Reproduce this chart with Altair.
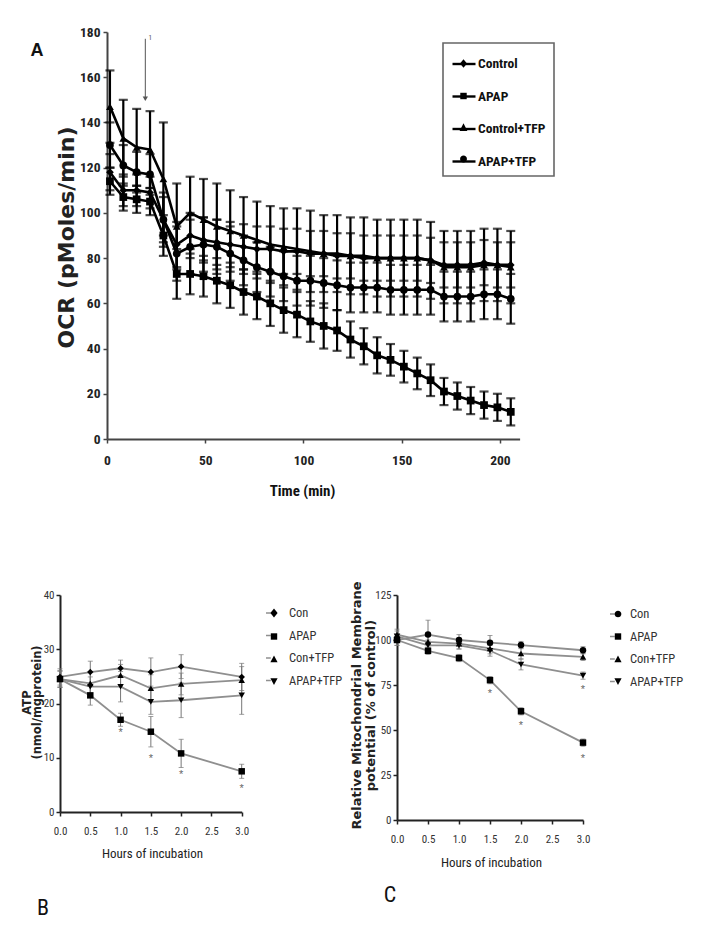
import altair as alt
import pandas as pd

W, H = 688, 922
NARROW = "Roboto Condensed, Liberation Sans Narrow, Roboto, Liberation Sans, sans-serif"
WIDE = "DejaVu Sans, Verdana, sans-serif"

# ---------------- Panel A : OCR ----------------
series_a = ["Control", "APAP", "Control+TFP", "APAP+TFP"]
time_a = [1.5, 8.3, 15.1, 21.9, 28.7, 35.5, 42.3, 49.1, 55.9, 62.7, 69.5, 76.3, 83.1,
          89.9, 96.7, 103.5, 110.3, 117.1, 123.9, 130.7, 137.5, 144.3, 151.1, 157.9,
          164.7, 171.5, 178.3, 185.1, 191.9, 198.7, 205.5]
ocr_control = [118, 110, 110, 109, 97, 86, 90, 88, 87, 86, 85, 84, 84, 83, 83, 82,
               82, 81, 81, 80, 80, 80, 80, 80, 79, 77, 77, 77, 78, 77, 77]
ocr_apap = [114, 107, 106, 105, 90, 73, 73, 72, 70, 68, 65, 63, 60, 57, 55, 52,
            50, 48, 44, 41, 37, 35, 32, 29, 26, 21, 19, 17, 15, 14, 12]
ocr_control_tfp = [147, 133, 129, 128, 115, 94, 100, 97, 94, 92, 90, 88, 86, 85, 84, 83,
                   82, 82, 81, 81, 80, 80, 80, 80, 79, 76, 76, 76, 77, 77, 76]
ocr_apap_tfp = [130, 121, 118, 117, 97, 82, 85, 86, 85, 82, 79, 76, 74, 72, 70, 70,
                69, 68, 67, 67, 67, 66, 66, 66, 66, 63, 63, 63, 64, 64, 62]
err_control = [8, 7, 7, 7, 10, 10, 10, 10, 10, 10, 10, 10, 10, 10, 10, 10,
               10, 10, 10, 10, 10, 10, 10, 10, 10, 10, 10, 10, 10, 10, 10]
err_apap = [6, 6, 6, 6, 9, 11, 9, 9, 10, 10, 10, 10, 10, 10, 10, 9,
            10, 9, 8, 8, 8, 7, 7, 7, 7, 6, 6, 6, 6, 6, 6]
err_control_tfp = [16, 17, 17, 17, 25, 19, 16, 18, 19, 18, 17, 17, 17, 17, 18, 18,
                   17, 17, 17, 17, 17, 17, 17, 17, 17, 16, 16, 16, 16, 16, 16]
err_apap_tfp = [10, 9, 9, 9, 12, 12, 12, 12, 12, 12, 11, 11, 11, 11, 11, 11,
                11, 11, 11, 11, 11, 11, 11, 11, 11, 11, 11, 11, 11, 11, 11]
x_ticks_a = [0, 50, 100, 150, 200]
y_ticks_a = [0, 20, 40, 60, 80, 100, 120, 140, 160, 180]
arrow_time = [19.5]
arrow_top = [177]
arrow_bottom = [150.5]
arrow_label_time = [22.0]
arrow_label_value = [177.5]

# ---------------- Panels B and C ----------------
series_bc = ["Con", "APAP", "Con+TFP", "APAP+TFP"]
hours = [0.0, 0.5, 1.0, 1.5, 2.0, 3.0]
x_ticks_bc = [0.0, 0.5, 1.0, 1.5, 2.0, 2.5, 3.0]

atp_con = [24.9, 25.8, 26.5, 25.8, 26.8, 24.9]
atp_apap = [24.5, 21.5, 17.0, 14.8, 10.8, 7.5]
atp_con_tfp = [24.5, 23.7, 25.2, 22.8, 23.6, 24.3]
atp_apap_tfp = [24.5, 23.1, 23.1, 20.3, 20.6, 21.5]
atp_con_err = [1.5, 2.0, 1.5, 2.6, 2.2, 2.5]
atp_apap_err = [1.5, 1.8, 1.2, 2.8, 2.6, 1.3]
atp_con_tfp_err = [1.5, 2.0, 2.0, 2.5, 2.0, 2.5]
atp_apap_tfp_err = [1.5, 1.8, 2.8, 2.3, 3.2, 3.5]
y_ticks_b = [0, 10, 20, 30, 40]
star_b_hours = [1.0, 1.5, 2.0, 3.0]
star_b_value = [14.5, 9.8, 6.8, 4.3]

mmp_con = [100, 103, 100, 98.5, 97.2, 94.3]
mmp_apap = [100, 94, 90, 77.7, 60.4, 43]
mmp_con_tfp = [103, 99, 98, 95.3, 92.5, 90.6]
mmp_apap_tfp = [102, 97, 97, 94, 86.4, 80.2]
mmp_con_err = [3, 8, 3, 4, 2, 2]
mmp_apap_err = [3, 2, 2, 2, 2, 2]
mmp_con_tfp_err = [3, 3, 3, 3, 3, 2]
mmp_apap_tfp_err = [3, 3, 2, 3, 3, 2]
y_ticks_c = [0, 25, 50, 75, 100, 125]
star_c_hours = [1.5, 2.0, 3.0, 3.0]
star_c_value = [70, 52, 34, 72]


def long_df(xs, names, values, errs, xname):
    rows = []
    for name, vals, es in zip(names, values, errs):
        for xi, v, e in zip(xs, vals, es):
            rows.append({xname: xi, "value": v, "lo": v - e, "hi": v + e, "series": name})
    return pd.DataFrame(rows)


def caps_df(df):
    a = df.assign(cap=df["lo"])
    b = df.assign(cap=df["hi"])
    return pd.concat([a, b], ignore_index=True)


dfA = long_df(time_a, series_a, [ocr_control, ocr_apap, ocr_control_tfp, ocr_apap_tfp],
              [err_control, err_apap, err_control_tfp, err_apap_tfp], "t")
dfB = long_df(hours, series_bc, [atp_con, atp_apap, atp_con_tfp, atp_apap_tfp],
              [atp_con_err, atp_apap_err, atp_con_tfp_err, atp_apap_tfp_err], "h")
dfC = long_df(hours, series_bc, [mmp_con, mmp_apap, mmp_con_tfp, mmp_apap_tfp],
              [mmp_con_err, mmp_apap_err, mmp_con_tfp_err, mmp_apap_tfp_err], "h")
capsA, capsB, capsC = caps_df(dfA), caps_df(dfB), caps_df(dfC)
arrow_df = pd.DataFrame({"t": arrow_time, "top": arrow_top, "bottom": arrow_bottom,
                         "lt": arrow_label_time, "lv": arrow_label_value})
starB = pd.DataFrame({"h": star_b_hours, "v": star_b_value})
starC = pd.DataFrame({"h": star_c_hours, "v": star_c_value})

# ---------------- scales (pixel ranges place each panel) ----------------
sxA = alt.Scale(domain=[0, 210], range=[99, 511.6], nice=False, zero=False)
syA = alt.Scale(domain=[0, 180], range=[431, 24], nice=False)
sxB = alt.Scale(domain=[0, 3], range=[52, 233.7], nice=False, zero=False)
syB = alt.Scale(domain=[0, 40], range=[804, 587], nice=False)
sxC = alt.Scale(domain=[0, 3], range=[389, 575], nice=False, zero=False)
syC = alt.Scale(domain=[0, 125], range=[812, 587], nice=False)

common_axis = dict(grid=False, labelFlush=False, labelOverlap=False)

axAx = alt.Axis(orient="bottom", offset=431 - H, values=x_ticks_a, title="Time (min)",
                titleX=294, titleY=51, titleBaseline="middle", titleFont=NARROW,
                titleFontSize=15, titleFontWeight="bold", titleColor="#111",
                labelFont=NARROW, labelFontSize=13.5, labelFontWeight="bold", labelColor="#222",
                labelPadding=10, tickSize=4, tickWidth=1.5, tickColor="#444",
                domainColor="#444", domainWidth=2, **common_axis)
axAy = alt.Axis(orient="left", offset=-99, values=y_ticks_a, title="OCR (pMoles/min)",
                titleX=-41, titleY=229, titleBaseline="middle", titleFont=WIDE,
                titleFontSize=22, titleFontWeight="bold", titleColor="#222",
                labelFont=NARROW, labelFontSize=13.5, labelFontWeight="bold", labelColor="#222",
                labelPadding=3, tickSize=4, tickWidth=1.5, tickColor="#444",
                domainColor="#444", domainWidth=2, **common_axis)

axBx = alt.Axis(orient="bottom", offset=804 - H, values=x_ticks_bc, format=".1f",
                title="Hours of incubation", titleX=144, titleY=41, titleBaseline="middle",
                titleFont=NARROW, titleFontSize=13, titleFontWeight="normal", titleColor="#222",
                labelFont=NARROW, labelFontSize=11, labelColor="#333", labelPadding=9,
                tickSize=4, tickWidth=1.5, tickColor="#222", domainColor="#222",
                domainWidth=2, **common_axis)
axBy = alt.Axis(orient="left", offset=-52, values=y_ticks_b, title=["ATP", "(nmol/mgprotein)"],
                titleX=-33, titleY=694, titleBaseline="middle", titleFont=WIDE,
                titleFontSize=11.5, titleLineHeight=10, titleFontWeight="bold", titleColor="#222",
                labelFont=NARROW, labelFontSize=11, labelColor="#333", labelPadding=2,
                tickSize=4, tickWidth=1.5, tickColor="#222", domainColor="#222",
                domainWidth=2, **common_axis)

axCx = alt.Axis(orient="bottom", offset=812 - H, values=x_ticks_bc, format=".1f",
                title="Hours of incubation", titleX=483, titleY=42, titleBaseline="middle",
                titleFont=NARROW, titleFontSize=13, titleFontWeight="normal", titleColor="#222",
                labelFont=NARROW, labelFontSize=11, labelColor="#333", labelPadding=9,
                tickSize=4, tickWidth=1.5, tickColor="#222", domainColor="#222",
                domainWidth=2, **common_axis)
axCy = alt.Axis(orient="left", offset=-389, values=y_ticks_c,
                title=["Relative Mitochondrial Membrane", "potential (% of control)"],
                titleX=-41, titleY=697, titleBaseline="middle", titleFont=WIDE,
                titleFontSize=13, titleLineHeight=14, titleFontWeight="bold", titleColor="#222",
                labelFont=NARROW, labelFontSize=11, labelColor="#333", labelPadding=2,
                tickSize=4, tickWidth=1.5, tickColor="#222", domainColor="#222",
                domainWidth=2, **common_axis)

# legend symbols (line part and marker part drawn by two stacked legends)
line_a = ["M-1,0L1,0"] * 4
marks_a = [
    "M0,-0.38L0.3,0L0,0.38L-0.3,0Z",
    "M-0.28,-0.28L0.28,-0.28L0.28,0.28L-0.28,0.28Z",
    "M0,-0.36L0.34,0.3L-0.34,0.3Z",
    "M-0.3,0A0.3,0.3,0,1,0,0.3,0A0.3,0.3,0,1,0,-0.3,0Z",
]
line_bc = ["M-1,0L-0.4,0"] * 4
marks_b = [
    "M0,-0.55L0.45,0L0,0.55L-0.45,0Z",
    "M-0.4,-0.4L0.4,-0.4L0.4,0.4L-0.4,0.4Z",
    "M0,-0.45L0.45,0.4L-0.45,0.4Z",
    "M0,0.45L0.45,-0.4L-0.45,-0.4Z",
]
marks_c = [
    "M-0.42,0A0.42,0.42,0,1,0,0.42,0A0.42,0.42,0,1,0,-0.42,0Z",
    "M-0.4,-0.4L0.4,-0.4L0.4,0.4L-0.4,0.4Z",
    "M0,-0.45L0.45,0.4L-0.45,0.4Z",
    "M0,0.45L0.45,-0.4L-0.45,-0.4Z",
]
shapes_a = ["diamond", "square", "triangle-up", "circle"]
shapes_b = ["diamond", "square", "triangle-up", "triangle-down"]
shapes_c = ["circle", "square", "triangle-up", "triangle-down"]


def panel(df, caps, xf, sx, sy, axx, axy, names, shapes, lines, marks, leg_line, leg_mark, style):
    X = lambda f, ax=None: alt.X(f"{f}:Q", scale=sx, axis=ax)
    Y = lambda f, ax=None: alt.Y(f"{f}:Q", scale=sy, axis=ax)
    err = alt.Chart(df).mark_rule(color=style["err"], strokeWidth=style["errw"]).encode(
        x=X(xf), y=Y("lo"), y2="hi")
    cap = alt.Chart(caps).mark_tick(orient="horizontal", color=style["err"],
                                    size=style["capw"], thickness=style["errw"]).encode(
        x=X(xf), y=Y("cap"))
    line = alt.Chart(df).mark_line(color=style["line"], strokeWidth=style["linew"]).encode(
        x=X(xf, axx), y=Y("value", axy), detail="series:N")
    pts = alt.Chart(df).mark_point(filled=True, color="black", opacity=1, size=style["size"]).encode(
        x=X(xf), y=Y("value"),
        shape=alt.Shape("series:N", scale=alt.Scale(domain=names, range=shapes), legend=None))
    leg1 = alt.Chart(df).mark_point(filled=False, color=style["legline"],
                                    strokeWidth=style["legsw"], opacity=0).encode(
        x=X(xf), y=Y("value"),
        shape=alt.Shape("series:N", scale=alt.Scale(domain=names, range=lines), legend=leg_line))
    leg2 = alt.Chart(df).mark_point(filled=True, color="black", opacity=0).encode(
        x=X(xf), y=Y("value"),
        shape=alt.Shape("series:N", scale=alt.Scale(domain=names, range=marks), legend=leg_mark))
    return [err, cap, line, pts, leg1, leg2], X, Y


def legends(x, y, size, font, fsize, weight, color, loff, rowpad, pad, stroke=None, lw=2):
    base = dict(orient="none", legendX=x, legendY=y, title=None, symbolSize=size,
                symbolOpacity=1, labelFont=font, labelFontSize=fsize, labelFontWeight=weight,
                labelOffset=loff, rowPadding=rowpad, padding=pad)
    kw_line = dict(base, labelColor=color, symbolStrokeWidth=lw)
    if stroke:
        kw_line["strokeColor"] = stroke
    kw_mark = dict(base, labelColor=color, labelExpr="''")
    return alt.Legend(**kw_line), alt.Legend(**kw_mark)


legA_line, legA_mark = legends(435, 35, 529, NARROW, 13.5, "bold", "#111", 1, 12.5, 8,
                               stroke="#666", lw=2.4)
legB_line, legB_mark = legends(257, 596, 256, NARROW, 12.5, "normal", "#333", 6, 6.5, 0, lw=1.5)
legC_line, legC_mark = legends(601, 597, 256, NARROW, 12.5, "normal", "#333", 3, 6.5, 0, lw=1.5)

styleA = dict(err="black", errw=2.2, capw=9, line="black", linew=2.6, size=60,
              legline="black", legsw=2.4)
styleBC = dict(err="#777", errw=1, capw=5, line="#8f8f8f", linew=1.8, size=42,
               legline="#8f8f8f", legsw=1.5)

layersA, XA, YA = panel(dfA, capsA, "t", sxA, syA, axAx, axAy, series_a, shapes_a,
                        line_a, marks_a, legA_line, legA_mark, styleA)
layersB, XB, YB = panel(dfB, capsB, "h", sxB, syB, axBx, axBy, series_bc, shapes_b,
                        line_bc, marks_b, legB_line, legB_mark, styleBC)
layersC, XC, YC = panel(dfC, capsC, "h", sxC, syC, axCx, axCy, series_bc, shapes_c,
                        line_bc, marks_c, legC_line, legC_mark, styleBC)

arrow_rule = alt.Chart(arrow_df).mark_rule(color="#555", strokeWidth=1).encode(
    x=XA("t"), y=YA("top"), y2="bottom")
arrow_head = alt.Chart(arrow_df).mark_point(shape="triangle-down", filled=True, color="#555",
                                            size=28, opacity=1).encode(x=XA("t"), y=YA("bottom"))
arrow_lbl = alt.Chart(arrow_df).mark_text(text="1", fontSize=7, color="#555", font=NARROW).encode(
    x=XA("lt"), y=YA("lv"))

starsB = alt.Chart(starB).mark_text(text="*", fontSize=11, color="#666", baseline="middle").encode(
    x=XB("h"), y=YB("v"))
starsC = alt.Chart(starC).mark_text(text="*", fontSize=11, color="#666", baseline="middle").encode(
    x=XC("h"), y=YC("v"))

one = pd.DataFrame({"k": [0]})
lblA = alt.Chart(one).mark_text(text="A", font="Liberation Sans", fontSize=18, fontWeight="bold",
                                color="#111").encode(x=alt.value(29), y=alt.value(43))
lblB = alt.Chart(one).mark_text(text="B", font=NARROW, fontSize=22, color="#111").encode(
    x=alt.value(35), y=alt.value(900))
lblC = alt.Chart(one).mark_text(text="C", font=NARROW, fontSize=22, color="#111").encode(
    x=alt.value(382), y=alt.value(887))

chart = alt.layer(
    *layersA, arrow_rule, arrow_head, arrow_lbl,
    *layersB, starsB,
    *layersC, starsC,
    lblA, lblB, lblC,
).resolve_scale(
    x="independent", y="independent", shape="independent"
).properties(
    width=W, height=H, padding=0, autosize=alt.AutoSizeParams(type="none"),
    background="white",
).configure_view(stroke=None).configure_legend(strokeWidth=1.6)

chart.save("out.html", embed_options={"renderer": "svg", "actions": False})
